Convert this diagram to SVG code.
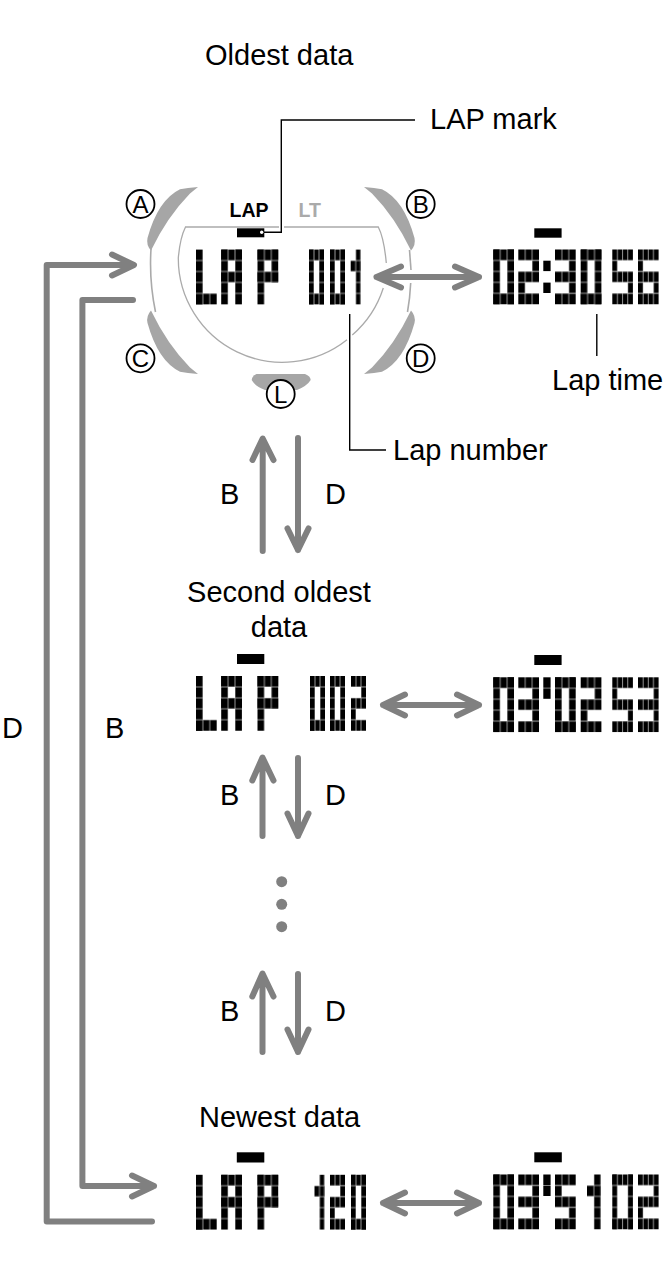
<svg xmlns="http://www.w3.org/2000/svg" width="667" height="1278" viewBox="0 0 667 1278">
  <style>
    text { font-family: "Liberation Sans", Arial, sans-serif; fill: #000; }
    .label { font-size: 29px; }
    .key { font-size: 24px; text-anchor: middle; }
    .indicator { font-size: 19.5px; font-weight: 700; }
    .button { fill: #a6a6a6; stroke: none; }
    .rim { fill: none; stroke: #aaa; stroke-width: 1.6; }
    .lcd-edge { fill: none; stroke: #aaa; stroke-width: 1.3; }
    .badge { fill: #fff; stroke: #000; stroke-width: 1.8; }
    .leader { fill: none; stroke: #000; stroke-width: 1.4; }
    .flow { fill: none; stroke: #808080; stroke-width: 6; stroke-linecap: round; stroke-linejoin: round; }
    .mark { fill: #000; }
    .grid { stroke: #a8a8a8; stroke-width: 0.9; fill: none; }
  </style>
  <defs>
    <!-- LCD matrix tiles: dark pixels separated by faint grid lines -->
    <pattern id="cellL" width="20.7" height="54.75" patternUnits="userSpaceOnUse">
      <rect width="20.7" height="54.75" fill="#000"/>
      <path class="grid" d="M6.9,0 V54.75 M13.8,0 V54.75 M0,10.95 H20.7 M0,21.9 H20.7 M0,32.85 H20.7 M0,43.8 H20.7"/>
    </pattern>
    <pattern id="cellS" width="15" height="54.75" patternUnits="userSpaceOnUse">
      <rect width="15" height="54.75" fill="#000"/>
      <path class="grid" d="M5,0 V54.75 M10,0 V54.75 M0,10.95 H15 M0,21.9 H15 M0,32.85 H15 M0,43.8 H15"/>
    </pattern>
    <pattern id="cellF" width="20.6" height="54.75" patternUnits="userSpaceOnUse">
      <rect width="20.6" height="54.75" fill="#000"/>
      <path class="grid" d="M5.15,0 V54.75 M10.3,0 V54.75 M15.45,0 V54.75 M0,10.95 H20.6 M0,21.9 H20.6 M0,32.85 H20.6 M0,43.8 H20.6"/>
    </pattern>

    <!-- three-column cells, wide -->
    <g id="L" fill="url(#cellL)"><rect width="6.9" height="54.75"/><rect y="43.8" width="20.7" height="10.95"/></g>
    <g id="A" fill="url(#cellL)"><rect width="20.7" height="10.95"/><rect width="6.9" height="54.75"/><rect x="13.8" width="6.9" height="54.75"/><rect y="21.9" width="20.7" height="10.95"/></g>
    <g id="P" fill="url(#cellL)"><rect width="20.7" height="10.95"/><rect width="6.9" height="54.75"/><rect x="13.8" width="6.9" height="32.85"/><rect y="21.9" width="20.7" height="10.95"/></g>
    <g id="w0" fill="url(#cellL)"><rect width="20.7" height="10.95"/><rect y="43.8" width="20.7" height="10.95"/><rect width="6.9" height="54.75"/><rect x="13.8" width="6.9" height="54.75"/></g>
    <g id="w1" fill="url(#cellL)"><rect x="6.9" width="6.9" height="54.75"/><rect y="10.95" width="13.8" height="10.95"/></g>
    <g id="w2" fill="url(#cellL)"><rect width="20.7" height="10.95"/><rect x="13.8" y="10.95" width="6.9" height="10.95"/><rect y="21.9" width="20.7" height="10.95"/><rect y="32.85" width="6.9" height="10.95"/><rect y="43.8" width="20.7" height="10.95"/></g>
    <g id="w3" fill="url(#cellL)"><rect width="20.7" height="10.95"/><rect x="13.8" y="10.95" width="6.9" height="10.95"/><rect y="21.9" width="20.7" height="10.95"/><rect x="13.8" y="32.85" width="6.9" height="10.95"/><rect y="43.8" width="20.7" height="10.95"/></g>
    <g id="w5" fill="url(#cellL)"><rect width="20.7" height="10.95"/><rect y="10.95" width="6.9" height="10.95"/><rect y="21.9" width="20.7" height="10.95"/><rect x="13.8" y="32.85" width="6.9" height="10.95"/><rect y="43.8" width="20.7" height="10.95"/></g>

    <!-- three-column cells, narrow -->
    <g id="n0" fill="url(#cellS)"><rect width="15" height="10.95"/><rect y="43.8" width="15" height="10.95"/><rect width="5" height="54.75"/><rect x="10" width="5" height="54.75"/></g>
    <g id="n1" fill="url(#cellS)"><rect x="5" width="5" height="54.75"/><rect y="10.95" width="10" height="10.95"/></g>
    <g id="n2" fill="url(#cellS)"><rect width="15" height="10.95"/><rect x="10" y="10.95" width="5" height="10.95"/><rect y="21.9" width="15" height="10.95"/><rect y="32.85" width="5" height="10.95"/><rect y="43.8" width="15" height="10.95"/></g>

    <!-- four-column cells for the hundredths -->
    <g id="f0" fill="url(#cellF)"><rect width="20.6" height="10.95"/><rect y="43.8" width="20.6" height="10.95"/><rect width="5.15" height="54.75"/><rect x="15.45" width="5.15" height="54.75"/></g>
    <g id="f2" fill="url(#cellF)"><rect width="20.6" height="10.95"/><rect x="15.45" y="10.95" width="5.15" height="10.95"/><rect y="21.9" width="20.6" height="10.95"/><rect y="32.85" width="5.15" height="10.95"/><rect y="43.8" width="20.6" height="10.95"/></g>
    <g id="f3" fill="url(#cellF)"><rect width="20.6" height="10.95"/><rect x="15.45" y="10.95" width="5.15" height="10.95"/><rect y="21.9" width="20.6" height="10.95"/><rect x="15.45" y="32.85" width="5.15" height="10.95"/><rect y="43.8" width="20.6" height="10.95"/></g>
    <g id="f5" fill="url(#cellF)"><rect width="20.6" height="10.95"/><rect y="10.95" width="5.15" height="10.95"/><rect y="21.9" width="20.6" height="10.95"/><rect x="15.45" y="32.85" width="5.15" height="10.95"/><rect y="43.8" width="20.6" height="10.95"/></g>
    <g id="f6" fill="url(#cellF)"><rect width="20.6" height="10.95"/><rect y="10.95" width="5.15" height="10.95"/><rect y="21.9" width="20.6" height="10.95"/><rect y="32.85" width="5.15" height="10.95"/><rect x="15.45" y="32.85" width="5.15" height="10.95"/><rect y="43.8" width="20.6" height="10.95"/></g>

    <!-- separators between minutes and seconds -->
    <g id="colon" fill="#000"><rect y="11.2" width="7.3" height="10.4"/><rect y="33.1" width="7.3" height="10.4"/></g>
    <g id="prime" fill="#000"><rect width="7.3" height="10.5"/><rect y="11" width="7.3" height="10.5"/></g>

    <!-- the word LAP on the display -->
    <g id="lap-word">
      <use href="#L" x="196"/>
      <use href="#A" x="221.2"/>
      <use href="#P" x="257.5"/>
    </g>

    <!-- crescent push button, upper left; the others are reflections of it -->
    <path id="crescent" class="button" d="M198,187 L188,188 L180,189.3 Q158,200 147.5,238 Q146,245 151,250.5 Q167,217 190,193.5 Z"/>
  </defs>

  <g id="connectors">
    <!-- loop between newest and oldest records -->
    <path class="flow" d="M152,1221.5 H46.7 V265 H133 M112,254.5 L134,265 L112,275.5"/>
    <path class="flow" d="M133,300 H82.4 V1186 H154 M132,1175.5 L154,1186 L132,1196.5"/>

    <!-- oldest / second oldest -->
    <path class="flow" d="M262.7,551 V439 M252.5,460 L262.7,438.5 L273.5,460"/>
    <path class="flow" d="M298,438 V550 M287.5,528.5 L298,550 L308.5,528.5"/>
    <!-- second oldest / ellipsis -->
    <path class="flow" d="M262.5,836 V758 M252.3,780.5 L262.5,757.5 L273.5,780.5"/>
    <path class="flow" d="M298,758 V836 M287.5,813.5 L298,836 L308.5,813.5"/>
    <!-- ellipsis / newest -->
    <path class="flow" d="M262.5,1052 V974 M252.3,996.5 L262.5,973.5 L273.5,996.5"/>
    <path class="flow" d="M298,974 V1052 M287.5,1029.5 L298,1052 L308.5,1029.5"/>

    <!-- lap number / lap time -->
    <path class="flow" d="M376.5,277 H479 M401,266.5 L376.5,277 L401,287.5 M455,266.5 L479,277 L455,287.5"/>
    <path class="flow" d="M383,705 H479 M405,694.5 L383,705 L405,715.5 M457,694.5 L479,705 L457,715.5"/>
    <path class="flow" d="M383,1203 H479 M405,1192.5 L383,1203 L405,1213.5 M457,1192.5 L479,1203 L457,1213.5"/>

    <!-- leaders -->
    <path class="leader" d="M415,120 H281.3 V232.3 H264"/>
    <path class="leader" d="M349.7,314 V450 H386"/>
    <path class="leader" d="M596.8,314 V356"/>
  </g>

  <g id="ellipsis" fill="#808080">
    <circle cx="281.7" cy="881.7" r="5.5"/>
    <circle cx="281.7" cy="904.3" r="5.5"/>
    <circle cx="281.7" cy="926.7" r="5.5"/>
  </g>

  <g id="watch">
    <use href="#crescent"/>
    <use href="#crescent" transform="translate(562,0) scale(-1,1)"/>
    <use href="#crescent" transform="translate(0,561) scale(1,-1)"/>
    <use href="#crescent" transform="translate(562,561) scale(-1,-1)"/>
    <path class="button" d="M256.5,374 H305 Q310.5,376 310.7,380 Q307,386 297,390 H265 Q255,386 251.7,380 Q252,376 256.5,374 Z"/>

    <path class="rim" d="M151,249 Q149,280 155.5,312"/>
    <path class="rim" d="M409.5,250 L411,270"/>
    <path class="rim" d="M410.7,283 Q410,298 407.5,312"/>

    <path class="lcd-edge" d="M279,227 H185.5 Q180,238 178.3,258 A104,104 0 0 0 347,339.7"/>
    <path class="lcd-edge" d="M284,227 H378.3 Q384,238 386.3,263"/>
    <path class="lcd-edge" d="M383.3,288 A104,104 0 0 1 352.3,335"/>

    <text class="indicator" x="229.5" y="217">LAP</text>
    <text class="indicator" x="298.5" y="217" style="fill:#aaa">LT</text>
    <rect class="mark" x="237" y="228.3" width="27.3" height="9"/>
    <circle cx="261.7" cy="232.3" r="1.7" fill="#fff"/>
  </g>

  <g id="key-a"><circle class="badge" cx="140.5" cy="204" r="14"/><text class="key" x="140.5" y="212.5">A</text></g>
  <g id="key-b"><circle class="badge" cx="420.7" cy="204" r="14"/><text class="key" x="420.7" y="212.5">B</text></g>
  <g id="key-c"><circle class="badge" cx="140.5" cy="358.3" r="14"/><text class="key" x="140.5" y="366.8">C</text></g>
  <g id="key-d"><circle class="badge" cx="420.7" cy="358.3" r="14"/><text class="key" x="420.7" y="366.8">D</text></g>
  <g id="key-l"><circle class="badge" cx="280.7" cy="394" r="14"/><text class="key" x="280.7" y="402.5">L</text></g>

  <g id="lap-001">
    <use href="#lap-word" y="249.6"/>
    <use href="#n0" x="309" y="249.6"/><use href="#n0" x="330" y="249.6"/><use href="#n1" x="350.7" y="249.6"/>
  </g>
  <g id="time-023056">
    <rect class="mark" x="534.3" y="228.3" width="27.3" height="9.4"/>
    <use href="#w0" x="493.3" y="249.5"/><use href="#w2" x="518.3" y="249.5"/><use href="#colon" x="543.3" y="249.5"/>
    <use href="#w3" x="555" y="249.5"/><use href="#w0" x="580.7" y="249.5"/>
    <use href="#f5" x="612.3" y="249.5"/><use href="#f6" x="638" y="249.5"/>
  </g>

  <g id="lap-002">
    <rect class="mark" x="237" y="654" width="27.3" height="10"/>
    <use href="#lap-word" y="676"/>
    <use href="#n0" x="310" y="676"/><use href="#n0" x="330" y="676"/><use href="#n2" x="351" y="676"/>
  </g>
  <g id="time-030253">
    <rect class="mark" x="534.3" y="655" width="27.3" height="10"/>
    <use href="#w0" x="493.3" y="677.3"/><use href="#w3" x="518.3" y="677.3"/><use href="#prime" x="543.3" y="677.3"/>
    <use href="#w0" x="555" y="677.3"/><use href="#w2" x="580.7" y="677.3"/>
    <use href="#f5" x="612.3" y="677.3"/><use href="#f3" x="638" y="677.3"/>
  </g>

  <g id="lap-120">
    <rect class="mark" x="236.8" y="1152.3" width="27.5" height="10.2"/>
    <use href="#lap-word" y="1174.8"/>
    <use href="#n1" x="314.5" y="1174.8"/><use href="#n2" x="330" y="1174.8"/><use href="#n0" x="351" y="1174.8"/>
  </g>
  <g id="time-035102">
    <rect class="mark" x="534.3" y="1152.3" width="27.5" height="10"/>
    <use href="#w0" x="493.3" y="1174.5"/><use href="#w3" x="518.3" y="1174.5"/><use href="#prime" x="543.3" y="1174.5"/>
    <use href="#w5" x="555" y="1174.5"/><use href="#w1" x="587" y="1174.5"/>
    <use href="#f0" x="612.3" y="1174.5"/><use href="#f2" x="638" y="1174.5"/>
  </g>

  <g id="labels">
    <text class="label" x="205" y="65">Oldest data</text>
    <text class="label" x="430" y="129">LAP mark</text>
    <text class="label" x="552" y="390">Lap time</text>
    <text class="label" x="393" y="460">Lap number</text>
    <text class="label" x="279" y="602" text-anchor="middle">Second oldest</text>
    <text class="label" x="279" y="637" text-anchor="middle">data</text>
    <text class="label" x="199" y="1127">Newest data</text>
    <text class="label" x="220" y="504">B</text>
    <text class="label" x="325" y="504">D</text>
    <text class="label" x="220" y="805">B</text>
    <text class="label" x="325" y="805">D</text>
    <text class="label" x="220" y="1021">B</text>
    <text class="label" x="325" y="1021">D</text>
    <text class="label" x="2" y="738">D</text>
    <text class="label" x="105" y="738">B</text>
  </g>
</svg>
